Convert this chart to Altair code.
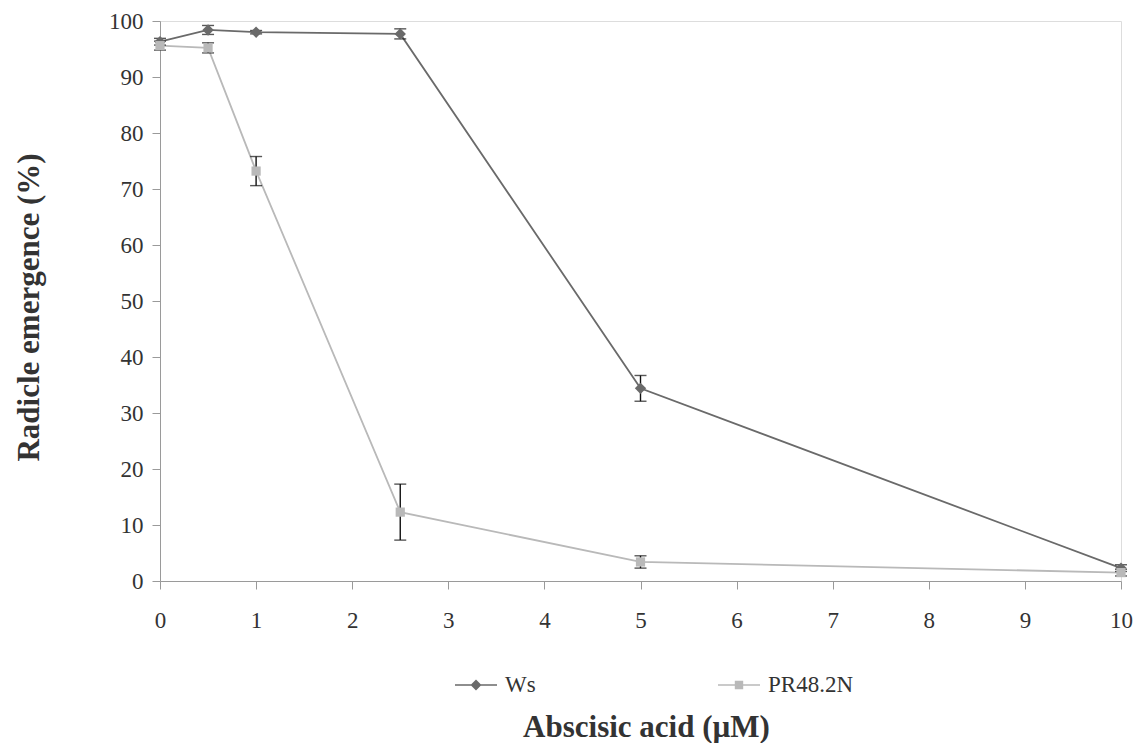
import altair as alt
import pandas as pd

# ---- data ----
aba = [0, 0.5, 1, 2.5, 5, 10]
ws_mean = [96.3, 98.4, 98.0, 97.7, 34.4, 2.3]
ws_err = [0.6, 0.8, 0.3, 0.9, 2.3, 0.6]
pr_mean = [95.6, 95.2, 73.2, 12.3, 3.4, 1.5]
pr_err = [0.8, 0.9, 2.6, 5.0, 1.1, 0.6]
series_names = ["Ws", "PR48.2N"]
series_colors = ["#6a6a6a", "#b9b9b9"]
x_ticks = list(range(0, 11))
y_ticks = list(range(0, 101, 10))

rows = []
for name, means, errs in [("Ws", ws_mean, ws_err), ("PR48.2N", pr_mean, pr_err)]:
    for x, m, e in zip(aba, means, errs):
        rows.append({"aba": x, "pct": m, "lo": m - e, "hi": m + e, "series": name})
df = pd.DataFrame(rows)

FONT = "Liberation Serif"
W, H = 961, 560
Y_TITLE = "Radicle emergence (%)"

xs = alt.Scale(domain=[0, 10], nice=False, zero=False)
ys = alt.Scale(domain=[0, 100], nice=False)

x_axis = alt.Axis(
    title="Abscisic acid (µM)", values=x_ticks, grid=False, format="d",
    labelFont=FONT, labelFontSize=23, labelColor="#333333", labelPadding=20,
    labelFlush=False, labelOverlap=False,
    tickSize=8, tickColor="#9a9a9a", domainColor="#9a9a9a",
    titleFont=FONT, titleFontSize=31, titleFontWeight="bold", titleColor="#333333",
    titleX=486, titleY=146, titleAlign="center", titleBaseline="middle",
)
y_axis = alt.Axis(
    title=Y_TITLE, values=y_ticks, grid=False, format="d",
    labelFont=FONT, labelFontSize=23, labelColor="#333333", labelPadding=9,
    labelFlush=False, labelOverlap=False,
    tickSize=8, tickColor="#9a9a9a", domainColor="#9a9a9a",
    titleFont=FONT, titleFontSize=31, titleFontWeight="bold", titleColor="#333333",
    titleX=-131, titleY=286, titleAngle=270, titleAlign="center", titleBaseline="middle",
)

base = alt.Chart(df)

legend_paths = [
    "M-1,-0.035L1,-0.035L1,0.035L-1,0.035Z M0,-0.26L0.26,0L0,0.26L-0.26,0Z",
    "M-1,-0.035L1,-0.035L1,0.035L-1,0.035Z M-0.2,-0.2L0.2,-0.2L0.2,0.2L-0.2,0.2Z",
]

# tiny marks (hidden under the real markers) that carry the legend
legend_layer = base.mark_point(filled=True, size=1, opacity=1).encode(
    x=alt.X("aba:Q", scale=xs, axis=x_axis),
    y=alt.Y("pct:Q", scale=ys, axis=y_axis),
    color=alt.Color("series:N", scale=alt.Scale(domain=series_names, range=series_colors),
                    legend=alt.Legend(title=None, orient="none", legendX=295, legendY=643,
                                      direction="horizontal", symbolSize=1764,
                                      symbolStrokeWidth=0, symbolOpacity=1,
                                      labelFont=FONT, labelFontSize=23,
                                      labelColor="#333333", labelOffset=8, columnPadding=182,
                                      padding=0)),
    shape=alt.Shape("series:N", scale=alt.Scale(domain=series_names, range=legend_paths)),
)

lines = base.mark_line(strokeWidth=1.8).encode(
    x=alt.X("aba:Q", scale=xs, axis=x_axis),
    y=alt.Y("pct:Q", scale=ys, axis=y_axis),
    stroke=alt.Stroke("series:N", scale=alt.Scale(domain=series_names, range=series_colors), legend=None),
    detail="series:N",
)

errs = base.mark_errorbar(ticks={"size": 12, "thickness": 1.4}, color="#111111", thickness=1.4).encode(
    x=alt.X("aba:Q", scale=xs, axis=x_axis),
    y=alt.Y("lo:Q", scale=ys, axis=y_axis),
    y2="hi:Q",
)

ws_pts = base.transform_filter(alt.datum.series == "Ws").mark_point(
    shape="diamond", filled=True, size=130, opacity=1, color=series_colors[0]
).encode(x=alt.X("aba:Q", scale=xs, axis=x_axis), y=alt.Y("pct:Q", scale=ys, axis=y_axis))

pr_pts = base.transform_filter(alt.datum.series == "PR48.2N").mark_point(
    shape="square", filled=True, size=85, opacity=1, color=series_colors[1]
).encode(x=alt.X("aba:Q", scale=xs, axis=x_axis), y=alt.Y("pct:Q", scale=ys, axis=y_axis))

chart = alt.layer(legend_layer, lines, errs, ws_pts, pr_pts).properties(
    width=W, height=H,
    autosize=alt.AutoSizeParams(type="none"),
    padding={"left": 160, "top": 21, "right": 18, "bottom": 162},
).configure_view(stroke=None).configure(background="white")

chart.save("out.html", embed_options={"renderer": "svg", "actions": False})
